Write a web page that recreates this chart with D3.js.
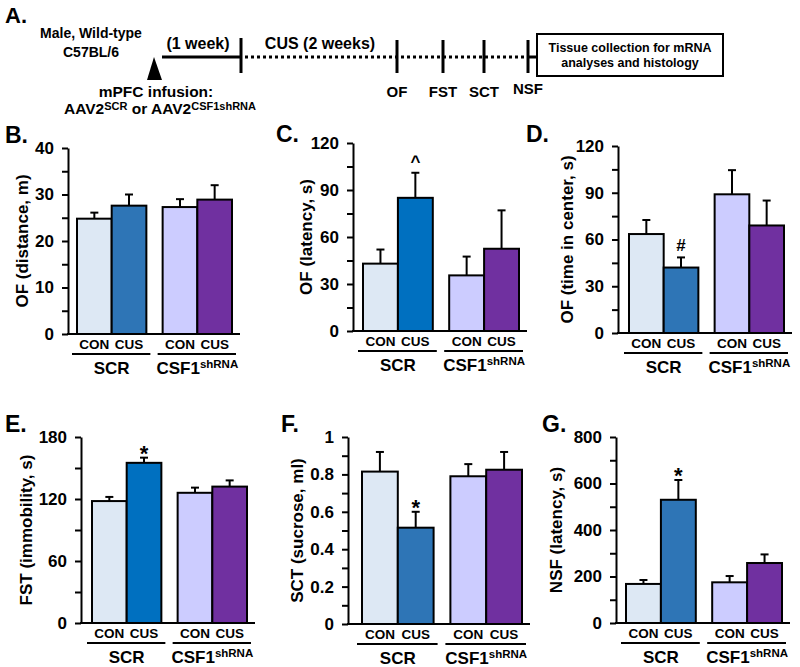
<!DOCTYPE html>
<html>
<head>
<meta charset="utf-8">
<script src="https://cdn.jsdelivr.net/npm/d3@7/dist/d3.min.js"></script>
<style>
body { margin: 0; background: #fff; }
svg { font-family: "Liberation Sans", Arial, sans-serif; font-weight: bold; }
</style>
</head>
<body>
<div id="fig"></div>
<script>
// groups and conditions
var groups = ["SCR", "CSF1"];
var conds = ["CON", "CUS"];

// values (SCR CON, SCR CUS, CSF1 CON, CSF1 CUS)
var distMean = [24.8, 27.6, 27.3, 28.9];
var distErr = [1.3, 2.4, 1.7, 3.1];
var ofLatMean = [43, 85, 35.5, 52.5];
var ofLatErr = [9, 16, 12, 24.5];
var centerMean = [63.5, 42, 89, 69];
var centerErr = [9, 6.5, 15.5, 16];
var fstMean = [118, 155, 126, 132];
var fstErr = [4, 5, 5, 6];
var sctMean = [0.815, 0.515, 0.79, 0.825];
var sctErr = [0.105, 0.085, 0.065, 0.095];
var nsfMean = [168, 530, 175, 258];
var nsfErr = [17, 85, 27, 37];

var ofLatSig = ["", "^", "", ""];
var centerSig = ["", "#", "", ""];
var fstSig = ["", "*", "", ""];
var sctSig = ["", "*", "", ""];
var nsfSig = ["", "*", "", ""];

var testLabels = ["OF", "FST", "SCT", "NSF"];

var svg = d3.select("#fig").append("svg")
    .attr("width", 800)
    .attr("height", 667);

svg.append("rect").attr("width", 800).attr("height", 667).attr("fill", "#fff");

// ---------- A. timeline ----------
var tl = svg.append("g");
tl.append("text").attr("x", 5).attr("y", 23).attr("font-size", 22).text("A.");
tl.append("text").attr("x", 91).attr("y", 38).attr("font-size", 14).attr("text-anchor", "middle").text("Male, Wild-type");
tl.append("text").attr("x", 91).attr("y", 57).attr("font-size", 14).attr("text-anchor", "middle").text("C57BL/6");

tl.append("path").attr("d", "M147,80L154,57L162,80Z").attr("fill", "#000");
tl.append("line").attr("x1", 162).attr("x2", 241).attr("y1", 57).attr("y2", 57)
    .attr("stroke", "#000").attr("stroke-width", 3);
tl.append("line").attr("x1", 241).attr("x2", 241).attr("y1", 38).attr("y2", 73)
    .attr("stroke", "#000").attr("stroke-width", 3);
tl.append("line").attr("x1", 245).attr("x2", 527).attr("y1", 57).attr("y2", 57)
    .attr("stroke", "#000").attr("stroke-width", 3).attr("stroke-dasharray", "3,3");
tl.append("line").attr("x1", 527).attr("x2", 537).attr("y1", 57).attr("y2", 57)
    .attr("stroke", "#000").attr("stroke-width", 3);
tl.append("text").attr("x", 198).attr("y", 49).attr("font-size", 16).attr("text-anchor", "middle").text("(1 week)");
tl.append("text").attr("x", 320).attr("y", 49).attr("font-size", 16).attr("text-anchor", "middle").text("CUS (2 weeks)");

var testX = [397, 443, 484, 528];
var testY = [97, 97, 97, 94];
testLabels.forEach(function (t, i) {
    tl.append("line").attr("x1", testX[i]).attr("x2", testX[i]).attr("y1", 40).attr("y2", 73)
        .attr("stroke", "#000").attr("stroke-width", 3);
    tl.append("text").attr("x", testX[i]).attr("y", testY[i]).attr("font-size", 15)
        .attr("text-anchor", "middle").text(t);
});

tl.append("rect").attr("x", 537).attr("y", 34).attr("width", 186).attr("height", 42)
    .attr("fill", "#fff").attr("stroke", "#000").attr("stroke-width", 2);
tl.append("text").attr("x", 630).attr("y", 52).attr("font-size", 12.5).attr("text-anchor", "middle").text("Tissue collection for mRNA");
tl.append("text").attr("x", 630).attr("y", 67).attr("font-size", 12.5).attr("text-anchor", "middle").text("analyses and histology");

tl.append("text").attr("x", 156).attr("y", 97).attr("font-size", 15.5).attr("text-anchor", "middle").text("mPFC infusion:");
var aav = tl.append("text").attr("x", 160).attr("y", 114).attr("font-size", 15.5).attr("text-anchor", "middle");
aav.append("tspan").text("AAV2");
aav.append("tspan").attr("font-size", 11).attr("dy", -4).text("SCR");
aav.append("tspan").attr("dy", 4).text(" or AAV2");
aav.append("tspan").attr("font-size", 11).attr("dy", -4).text("CSF1shRNA");

// ---------- bar panels ----------
var conSCR = "#dde8f4", conCSF = "#ccccff", cusCSF = "#7030a0";

var panels = [
    { letter: "B.", lx: 5, ly: 143, label: "OF (distance, m)", labX: 28, axisX: 68, xr: [77, 232], y0: 334, y1: 148, max: 40, step: 10, mean: distMean, err: distErr, sig: null, cus: "#2e75b6" },
    { letter: "C.", lx: 276, ly: 142, label: "OF (latency, s)", labX: 312, axisX: 353, xr: [363, 519], y0: 331, y1: 143, max: 120, step: 30, mean: ofLatMean, err: ofLatErr, sig: ofLatSig, cus: "#0070c0" },
    { letter: "D.", lx: 526, ly: 142, label: "OF (time in center, s)", labX: 573, axisX: 618, xr: [629, 784], y0: 333, y1: 146, max: 120, step: 30, mean: centerMean, err: centerErr, sig: centerSig, cus: "#2e75b6" },
    { letter: "E.", lx: 5, ly: 432, label: "FST (immobility, s)", labX: 32, axisX: 81, xr: [92, 247], y0: 623, y1: 437, max: 180, step: 60, mean: fstMean, err: fstErr, sig: fstSig, cus: "#0070c0" },
    { letter: "F.", lx: 281, ly: 432, label: "SCT (sucrose, ml)", labX: 303, axisX: 348, xr: [362, 522], y0: 624, y1: 437, max: 1, step: 0.2, mean: sctMean, err: sctErr, sig: sctSig, cus: "#2e75b6" },
    { letter: "G.", lx: 542, ly: 432, label: "NSF (latency, s)", labX: 562, axisX: 616, xr: [626, 782], y0: 623, y1: 437, max: 800, step: 200, mean: nsfMean, err: nsfErr, sig: nsfSig, cus: "#2e75b6" }
];

panels.forEach(drawPanel);

function drawPanel(p) {
    var g = svg.append("g");
    var colors = [conSCR, p.cus, conCSF, cusCSF];

    var y = d3.scaleLinear().domain([0, p.max]).range([p.y0, p.y1]);
    var outer = d3.scaleBand().domain(groups).range(p.xr).paddingInner(0.19);
    var inner = d3.scaleBand().domain(conds).range([0, outer.bandwidth()]);

    var major = d3.range(0, p.max + p.step / 2, p.step);
    var minor = d3.range(p.step / 2, p.max, p.step);
    var fmt = function (d) { return String(+d.toFixed(2)); };

    g.append("text").attr("x", p.lx).attr("y", p.ly).attr("font-size", 23).text(p.letter);

    g.append("text")
        .attr("transform", "translate(" + p.labX + "," + (p.y0 + p.y1) / 2 + ")rotate(-90)")
        .attr("text-anchor", "middle")
        .attr("font-size", 17)
        .text(p.label);

    var data = p.mean.map(function (m, i) {
        return { group: groups[Math.floor(i / 2)], cond: conds[i % 2], mean: m, err: p.err[i], color: colors[i], sig: p.sig ? p.sig[i] : "" };
    });

    // error bars (upper only)
    var eb = g.selectAll(".eb").data(data).enter().append("g");
    eb.append("line")
        .attr("x1", function (d) { return outer(d.group) + inner(d.cond) + inner.bandwidth() / 2; })
        .attr("x2", function (d) { return outer(d.group) + inner(d.cond) + inner.bandwidth() / 2; })
        .attr("y1", function (d) { return y(d.mean); })
        .attr("y2", function (d) { return y(d.mean + d.err); })
        .attr("stroke", "#000").attr("stroke-width", 2);
    eb.append("line")
        .attr("x1", function (d) { return outer(d.group) + inner(d.cond) + inner.bandwidth() / 2 - 4; })
        .attr("x2", function (d) { return outer(d.group) + inner(d.cond) + inner.bandwidth() / 2 + 4; })
        .attr("y1", function (d) { return y(d.mean + d.err); })
        .attr("y2", function (d) { return y(d.mean + d.err); })
        .attr("stroke", "#000").attr("stroke-width", 2);

    g.selectAll(".bar").data(data).enter().append("rect")
        .attr("x", function (d) { return outer(d.group) + inner(d.cond); })
        .attr("y", function (d) { return y(d.mean); })
        .attr("width", inner.bandwidth())
        .attr("height", function (d) { return y(0) - y(d.mean); })
        .attr("fill", function (d) { return d.color; })
        .attr("stroke", "#000").attr("stroke-width", 2);

    g.selectAll(".sig").data(data.filter(function (d) { return d.sig; })).enter().append("text")
        .attr("x", function (d) { return outer(d.group) + inner(d.cond) + inner.bandwidth() / 2; })
        .attr("y", function (d) { return y(d.mean + d.err) - (d.sig === "*" ? -3 : 6); })
        .attr("text-anchor", "middle")
        .attr("font-size", function (d) { return d.sig === "*" ? 22 : 17; })
        .text(function (d) { return d.sig; });

    // y axis
    var ax = g.append("g").attr("transform", "translate(" + p.axisX + ",0)")
        .call(d3.axisLeft(y).tickValues(major).tickFormat(fmt).tickSize(6).tickSizeOuter(0).tickPadding(8));
    ax.append("g").call(d3.axisLeft(y).tickValues(minor).tickFormat("").tickSize(6).tickSizeOuter(0));
    ax.selectAll("path.domain").attr("stroke-width", 2);
    ax.selectAll(".tick line").attr("stroke-width", 2);
    ax.selectAll(".tick text").attr("font-size", 17).attr("font-family", null).attr("font-weight", "bold").attr("fill", "#000");
    ax.selectAll("path.domain").filter(function (d, i) { return i > 0; }).remove();

    // baseline
    g.append("line").attr("x1", p.axisX - 1).attr("x2", p.xr[1] + 8)
        .attr("y1", y(0)).attr("y2", y(0))
        .attr("stroke", "#000").attr("stroke-width", 2);

    // condition labels
    g.selectAll(".cond").data(data).enter().append("text")
        .attr("x", function (d) { return outer(d.group) + inner(d.cond) + inner.bandwidth() / 2; })
        .attr("y", y(0) + 15)
        .attr("text-anchor", "middle")
        .attr("font-size", 13.5)
        .text(function (d) { return d.cond; });

    // group underlines and labels
    groups.forEach(function (gr) {
        g.append("line")
            .attr("x1", outer(gr) - 5).attr("x2", outer(gr) + outer.bandwidth() + 4)
            .attr("y1", y(0) + 20).attr("y2", y(0) + 20)
            .attr("stroke", "#000").attr("stroke-width", 2);
        var t = g.append("text")
            .attr("x", outer(gr) + outer.bandwidth() / 2)
            .attr("y", y(0) + 40)
            .attr("text-anchor", "middle")
            .attr("font-size", 17);
        t.append("tspan").text(gr);
        if (gr === "CSF1") {
            t.append("tspan").attr("font-size", 11.5).attr("dy", -6).text("shRNA");
        }
    });
}
</script>
</body>
</html>
